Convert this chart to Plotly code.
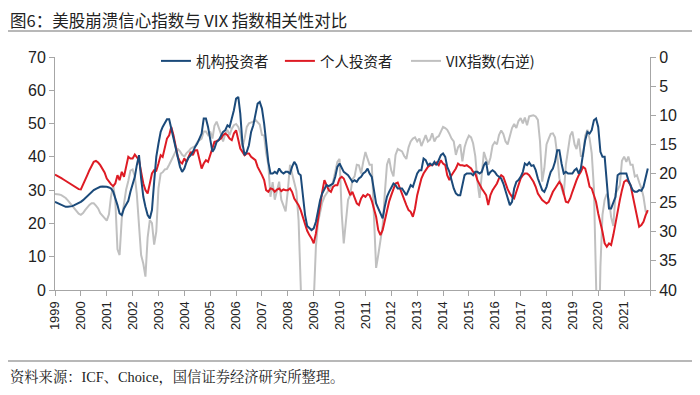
import plotly.graph_objects as go
import pandas as pd

years = list(range(1999, 2022))
dates = pd.date_range("1999-01-01", periods=12 * len(years), freq="MS")

# 机构投资者 (left axis)
inst = [
    26.5,26.2,25.8,25.5,25.2,25.0,25.0,25.0,25.2,25.5,25.8,26.2,
    26.5,27.0,27.6,28.1,28.7,29.3,30.0,30.4,30.8,31.0,31.1,31.1,
    31.0,30.8,30.5,29.6,27.8,25.5,23.0,22.5,24.5,25.8,26.8,29.5,
    31.5,34.0,37.5,40.5,33.5,28.0,25.0,22.5,21.5,24.0,32.5,40.0,
    44.0,47.5,49.0,50.0,51.3,51.3,48.5,46.5,43.0,40.0,37.0,35.5,
    36.5,38.5,39.8,40.5,41.5,43.0,44.0,45.5,47.0,51.5,51.5,49.0,
    45.5,41.5,42.5,44.5,45.0,46.5,47.5,48.0,49.5,49.0,51.5,54.0,
    57.5,58.0,53.0,44.0,40.5,41.5,43.5,47.5,49.5,52.5,56.0,56.5,
    54.5,50.0,44.0,38.5,35.0,35.0,35.5,35.0,36.5,35.5,35.0,35.5,
    35.5,35.0,37.0,38.5,37.5,35.0,34.5,28.5,22.5,19.2,18.5,18.0,
    18.5,20.5,23.5,27.0,29.0,30.5,31.5,31.2,31.5,32.0,34.0,37.0,
    38.0,36.5,35.5,35.0,34.5,33.5,32.5,33.0,32.5,33.5,34.0,35.0,
    35.5,36.5,35.0,34.0,30.5,26.0,24.5,23.0,21.5,25.0,28.0,29.5,
    31.0,32.0,31.5,30.5,30.5,30.5,29.5,28.5,30.0,31.5,31.0,33.0,
    35.0,36.0,36.0,39.5,39.0,37.5,38.0,37.5,38.5,37.5,39.0,40.5,
    41.0,40.0,37.0,35.5,33.0,30.5,29.0,28.5,28.5,31.5,34.5,35.0,
    35.0,35.0,34.5,35.5,35.5,35.0,35.5,37.5,38.5,34.5,35.5,36.0,
    35.5,34.5,34.0,33.5,32.0,30.0,27.5,25.5,26.5,30.5,32.5,33.0,
    34.0,35.5,38.0,37.5,38.3,37.3,37.5,36.0,33.5,32.0,30.0,29.5,
    31.0,33.5,35.5,36.5,38.5,42.0,42.0,38.0,35.0,35.5,35.0,35.0,
    35.0,36.0,36.5,35.0,36.5,41.0,45.0,47.5,47.0,48.0,51.0,51.5,
    49.0,41.5,40.0,40.0,33.0,24.5,24.5,26.0,28.0,34.5,35.0,35.0,
    35.0,35.0,33.0,31.5,30.0,29.5,29.5,30.0,29.8,31.0,34.0,36.5,
]

# 个人投资者 (left axis)
indiv = [
    34.7,34.4,34.0,33.6,33.2,32.8,32.4,32.0,31.6,31.2,30.7,30.3,
    30.2,31.5,33.0,34.5,36.0,37.5,38.5,38.8,38.3,37.5,36.5,35.3,
    33.5,32.5,31.8,31.2,32.0,34.5,33.0,35.5,34.0,37.0,40.0,39.5,
    39.5,40.7,40.0,39.0,35.5,32.0,30.0,29.0,32.0,35.0,36.0,35.8,
    38.0,40.5,40.0,43.0,45.5,46.5,49.0,46.5,43.5,40.0,38.5,38.0,
    39.5,38.5,40.0,41.5,40.5,42.0,42.0,39.0,36.5,38.0,39.0,38.5,
    40.5,43.0,44.5,44.7,45.0,45.5,46.5,47.0,46.5,45.5,45.0,47.0,
    48.0,45.5,42.5,41.5,40.5,41.0,41.0,40.0,39.5,39.0,37.0,35.5,
    34.5,33.0,30.0,29.5,30.5,30.3,29.5,30.2,30.5,29.7,30.2,30.0,
    30.0,30.5,29.5,27.5,26.5,25.5,24.0,22.0,19.5,17.8,16.5,15.5,
    14.0,17.0,21.0,26.0,29.5,33.0,31.5,30.0,29.5,31.0,31.5,31.5,
    33.5,34.0,33.5,32.0,30.0,28.5,29.5,27.5,26.0,25.5,27.5,28.5,
    28.0,28.8,28.5,26.8,24.5,22.0,18.0,16.5,18.0,21.0,24.5,26.5,
    28.5,30.5,32.0,32.3,30.5,29.0,27.0,25.5,24.0,23.5,22.0,24.5,
    28.5,31.5,33.5,35.0,36.0,37.0,37.5,37.5,38.0,38.3,37.5,39.0,
    38.0,37.5,34.5,33.0,34.5,35.5,36.5,38.0,37.5,37.5,37.3,37.5,
    37.0,36.5,35.5,35.0,33.0,31.5,30.5,29.5,28.5,25.5,28.5,30.0,
    31.0,32.0,33.5,34.5,34.0,32.0,30.3,29.0,28.0,27.5,29.5,31.5,
    33.5,34.5,35.0,35.0,34.5,33.5,32.5,31.0,29.0,28.0,27.0,26.5,
    26.0,26.5,28.0,29.5,30.5,31.5,32.5,31.5,29.0,26.5,26.3,27.5,
    29.5,31.5,33.0,34.5,35.5,37.0,36.5,34.0,31.0,30.5,28.5,26.5,
    23.0,20.5,17.5,14.0,13.0,14.0,13.5,16.5,20.5,23.5,27.0,30.0,
    32.5,33.0,32.5,31.5,28.5,25.0,22.0,19.0,19.5,20.5,22.5,24.0,
]

# VIX指数 (right axis, reversed)
vix = [
    23.5,23.5,23.6,23.7,23.9,24.2,24.6,25.1,25.6,26.1,26.6,26.9,
    27.1,26.8,26.3,25.8,25.4,25.1,25.1,25.5,26.0,26.8,27.3,27.7,
    28.1,27.0,24.0,22.0,24.5,33.0,34.0,27.7,24.8,22.8,21.3,19.5,
    19.3,20.5,23.5,29.4,34.0,35.5,37.7,31.0,28.0,28.5,32.2,30.0,
    22.5,20.0,19.8,19.3,19.2,18.5,17.8,17.0,16.2,15.8,16.2,16.8,
    17.1,16.5,16.2,15.7,15.5,15.3,14.6,14.3,14.0,12.8,12.8,13.4,
    12.8,14.0,11.8,11.1,12.0,13.2,14.5,13.2,12.5,13.4,12.3,11.7,
    11.5,12.0,13.0,15.5,14.0,12.0,11.4,11.3,11.1,10.8,11.3,11.6,
    13.4,13.5,16.5,18.5,24.0,21.5,24.5,23.0,21.4,24.5,25.4,26.5,
    23.0,18.5,20.0,21.4,23.0,28.0,48.0,58.0,62.0,60.0,55.0,48.0,
    42.0,32.5,28.5,26.5,25.0,24.0,23.5,22.8,22.3,21.4,19.8,18.0,
    17.5,27.0,32.0,28.0,24.5,23.7,21.0,20.5,18.5,18.6,20.0,18.0,
    16.3,17.5,18.5,18.5,25.9,36.2,34.0,31.7,29.0,23.5,18.5,17.4,
    19.5,20.5,16.8,15.8,16.0,16.2,17.0,17.5,15.5,14.5,14.0,13.8,
    14.5,14.0,15.3,14.2,13.4,14.5,14.2,13.1,14.5,13.8,13.6,12.8,
    12.0,12.2,12.5,13.2,14.0,14.5,16.8,15.5,15.0,17.9,15.5,14.3,
    13.5,13.8,14.8,17.0,21.4,24.2,20.0,16.3,17.5,18.5,17.3,15.2,
    14.6,15.0,13.4,12.6,13.2,14.5,15.0,13.8,12.2,11.5,12.2,11.0,
    10.5,11.4,10.4,11.7,10.2,10.1,10.0,10.2,10.8,14.5,21.4,19.1,
    15.0,14.0,13.2,13.1,13.8,16.8,20.8,22.5,23.7,18.5,15.5,13.5,
    12.8,15.0,15.8,14.0,17.0,17.0,13.5,12.5,14.0,16.5,22.5,34.0,
    55.0,36.0,27.1,24.5,23.5,24.5,27.5,29.0,23.5,22.8,22.0,17.8,
    17.1,18.0,17.1,18.5,18.5,20.5,20.3,21.5,22.5,24.0,26.5,26.8,
]

tick_years = list(range(1999, 2023))
tick_text = [str(y) for y in range(1999, 2022)] + [""]

BLUE = "#1B4A7A"
RED = "#DE1B24"
GRAY = "#C0C0C0"
AXIS = "#A6A6A6"
TICKFONT = dict(family="Liberation Sans Narrow, Arial Narrow, Liberation Sans, Arial", size=16, color="#222")
LEGFONT = dict(family="Noto Sans CJK SC, sans-serif", size=14.5, color="#222")

fig = go.Figure()
fig.add_trace(go.Scatter(x=dates, y=vix, name="VIX指数(右逆)", mode="lines",
                         line=dict(color=GRAY, width=2), yaxis="y", legend="legend3"))
fig.add_trace(go.Scatter(x=dates, y=indiv, name="个人投资者", mode="lines",
                         line=dict(color=RED, width=2), yaxis="y2", legend="legend2"))
fig.add_trace(go.Scatter(x=dates, y=inst, name="机构投资者", mode="lines",
                         line=dict(color=BLUE, width=2), yaxis="y2", legend="legend"))

leg_common = dict(orientation="h", xanchor="left", y=0.983, yanchor="middle",
                  font=LEGFONT, itemwidth=30, bgcolor="rgba(0,0,0,0)")

fig.update_layout(
    width=692, height=387,
    margin=dict(l=47, r=50, t=49, b=105),
    paper_bgcolor="white", plot_bgcolor="white",
    font=dict(family="Noto Sans CJK SC, sans-serif", color="#222"),
    xaxis=dict(
        type="date",
        range=["1999-01-01", "2022-01-01"],
        tickvals=[f"{y}-01-01" for y in tick_years],
        ticktext=tick_text,
        tickangle=-90,
        ticks="outside", ticklen=5, tickcolor=AXIS,
        showline=True, linecolor=AXIS, linewidth=1,
        showgrid=False, zeroline=False,
        tickfont=dict(family="Liberation Sans, Arial", size=13, color="#222"),
    ),
    yaxis=dict(
        side="right", range=[40, 0], tick0=0, dtick=5,
        ticks="outside", ticklen=5, tickcolor=AXIS,
        showline=True, linecolor=AXIS, linewidth=1,
        showgrid=False, zeroline=False,
        tickfont=TICKFONT,
    ),
    yaxis2=dict(
        side="left", overlaying="y", range=[0, 70], tick0=0, dtick=10,
        ticks="outside", ticklen=5, tickcolor=AXIS,
        showline=True, linecolor=AXIS, linewidth=1,
        showgrid=False, zeroline=False,
        tickfont=TICKFONT,
    ),
    legend=dict(x=0.1697, **leg_common),
    legend2=dict(x=0.378, **leg_common),
    legend3=dict(x=0.5899, **leg_common),
    showlegend=True,
)

fig.add_annotation(text="图6：美股崩溃信心指数与 VIX 指数相关性对比",
                   xref="paper", yref="paper", x=-0.0765, y=1.159,
                   xanchor="left", yanchor="middle", showarrow=False, borderpad=0,
                   font=dict(family="Noto Sans CJK SC, sans-serif", size=16.5, color="#222"))
fig.add_annotation(text="资料来源：ICF、Choice，国信证券经济研究所整理。",
                   xref="paper", yref="paper", x=-0.0765, y=-0.375,
                   xanchor="left", yanchor="middle", showarrow=False, borderpad=0,
                   font=dict(family="Liberation Serif, Noto Serif CJK SC, Noto Sans CJK SC, serif", size=14.3, color="#222"))
for yp in (1.1116, -0.3047):
    fig.add_shape(type="line", xref="paper", yref="paper",
                  x0=-0.079, x1=1.084, y0=yp, y1=yp,
                  line=dict(color="#A0A0A0", width=1.5))

fig.write_html("out.html")
